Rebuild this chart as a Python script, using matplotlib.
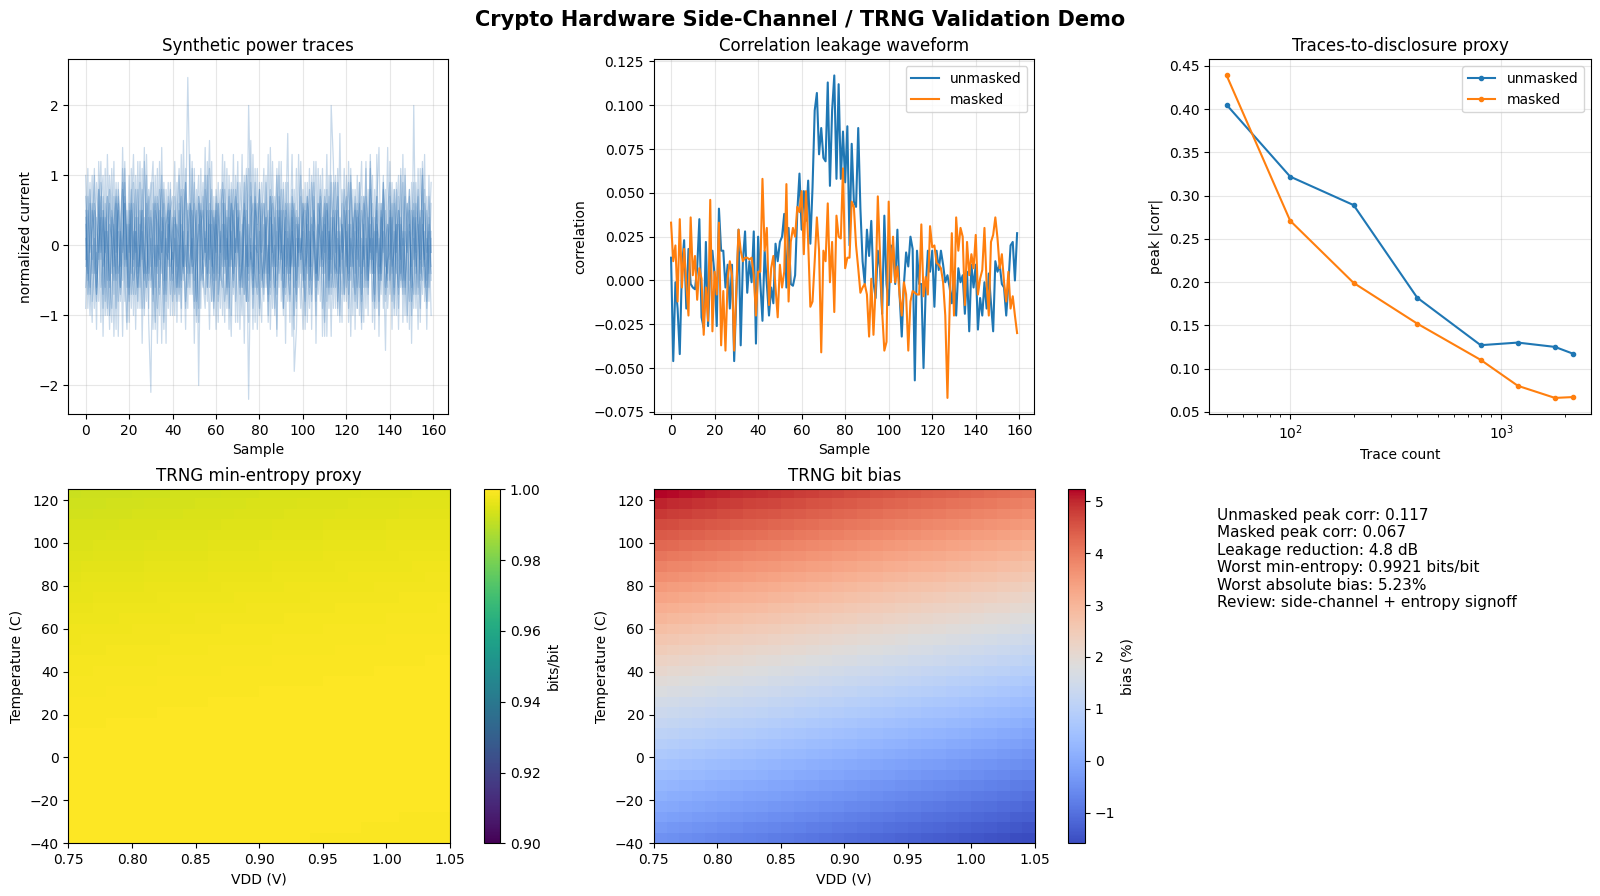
import numpy as np
import matplotlib
matplotlib.use("Agg")
import matplotlib.pyplot as plt

# ---------------- data ----------------
samples = np.arange(160)

# synthetic power traces (tenths of normalized current)
trace_a = [3,-5,8,-2,11,-7,0,4,-9,6,-1,-12,5,2,-4,9,-6,1,7,-3,
-8,4,13,-2,-6,0,5,-10,3,8,-5,-1,6,-14,2,10,-3,-7,4,1,
-2,7,-11,5,0,-4,9,3,-6,12,-8,-1,2,6,-5,-9,4,15,-3,0,
5,-7,-2,8,-4,1,-12,6,3,-1,9,-6,-3,4,11,-8,0,-5,7,2,
-10,3,6,-2,-7,14,-1,4,-5,0,8,-9,2,-4,6,-13,1,5,-3,10,
-6,-2,7,3,-8,0,12,-5,-1,4,-11,6,2,-7,9,-3,-4,16,-2,1,
5,-9,3,-6,8,0,-2,-12,7,4,-5,1,10,-8,2,-3,6,-1,-15,5,
9,-4,0,3,-7,11,-2,-6,4,8,-10,1,-3,7,-5,2,13,-9,0,-4]
trace_b = [-6,2,9,-4,1,-8,5,12,-3,-1,7,-10,4,0,-5,8,3,-13,6,-2,
10,-7,1,4,-9,3,-2,14,-6,0,5,-4,-11,7,2,-1,9,-8,3,-5,
1,12,-6,-2,8,-3,0,-9,6,4,-14,2,7,-5,-1,10,-4,3,-8,5,
-2,-11,4,9,0,-6,7,-3,13,-8,2,5,-1,-7,10,-4,1,-12,6,3,
8,-5,-2,4,-10,7,0,-3,11,-6,5,-9,2,16,-4,-1,6,-8,3,-2,
-12,5,1,-6,9,3,-4,-1,7,-13,2,8,-5,0,4,-9,11,-3,6,-7,
2,-4,10,-1,-8,5,3,-11,7,0,-6,12,-2,4,-9,1,-5,8,-3,14,
-7,0,6,-10,3,-2,9,-5,1,7,-14,4,-1,-6,11,2,-3,5,-8,1]
trace_c = [10,-3,-7,5,2,-12,8,-1,4,-6,13,0,-9,3,7,-4,-2,11,-8,5,
-1,6,-10,2,-3,9,-14,4,1,-5,7,12,-6,0,-2,8,-11,3,5,-7,
4,-1,-8,10,0,-5,3,24,7,-2,6,1,-9,11,-4,2,-6,5,-1,-10,
8,3,-5,0,12,-7,-2,6,-4,1,-11,9,4,-3,-8,2,15,-6,0,-1,
-4,9,-7,2,5,-12,0,7,-3,10,-5,-1,4,-8,1,13,-6,3,-2,-9,
6,0,-4,11,-7,2,-1,-5,8,4,-13,6,-2,9,-6,1,5,-10,3,-1,
-8,12,-3,4,0,-6,9,-2,-11,7,3,-4,1,-9,6,14,-5,2,-7,0,
4,-12,8,-1,5,-3,-7,10,2,-5,0,-9,6,3,-4,11,-6,-2,7,-1]
trace_d = [-2,7,-4,-11,6,3,-1,9,-7,2,-5,10,4,-13,1,6,-8,0,12,-3,
5,-9,2,-1,8,-6,11,-2,-4,7,0,-12,5,3,-7,14,-5,1,-3,9,
-10,4,2,-6,13,-1,-8,5,0,-3,9,-11,6,1,-4,-7,12,-2,8,-5,
3,0,-9,6,-2,11,-5,-13,4,7,-1,2,-6,10,-8,20,5,-3,9,-12,
1,6,-4,-1,13,-7,3,-10,5,0,-2,8,-6,1,-11,7,4,-5,2,12,
-3,-8,6,0,-5,9,-14,3,1,-2,7,-6,10,-4,0,5,-9,2,-1,11,
-6,3,-3,8,-12,4,0,-7,6,2,-10,13,-1,-4,5,-8,1,9,-2,-5,
7,-1,-9,4,10,-6,2,-3,-11,8,0,5,-7,3,-2,12,-8,1,-4,6]
trace_e = [4,-9,1,6,-3,-7,12,-2,5,-10,0,8,-4,3,-12,7,1,-5,9,-1,
-6,11,-3,2,-8,5,0,-4,10,-11,-21,6,-2,-9,8,-1,4,-14,7,2,
-5,0,9,-7,3,-1,-12,6,4,-3,11,-8,0,5,-2,14,-6,-1,3,-9,
7,-4,2,-10,6,1,-3,8,-7,0,12,-5,-2,9,-1,-11,4,6,-6,3,
-9,2,11,-4,0,-6,7,3,-13,5,-1,9,-7,2,-3,6,-10,4,1,-2,
8,-12,3,-5,10,0,-4,6,-8,2,-1,13,-6,4,-9,1,7,-3,-11,5,
0,-7,9,2,-4,6,-10,1,-2,11,-5,3,-8,0,7,-13,4,-1,5,-6,
12,-3,-1,8,-9,3,-5,1,6,-12,9,-2,4,-7,0,10,-4,-8,2,-3]
trace_f = [-9,5,-1,3,10,-6,-2,7,-13,4,0,-5,11,-3,8,-8,2,-1,6,-11,
3,-4,9,-7,1,12,-2,-5,6,-9,4,0,-3,11,-6,2,-12,8,-1,5,
7,-10,3,1,-6,8,-2,-4,13,-7,0,5,-11,2,9,-3,-1,6,-8,4,
-12,6,1,-3,8,-9,4,0,-5,10,-2,-7,3,-14,5,-22,-1,-4,11,-6,
2,-3,-8,9,1,-5,12,-2,-7,4,0,-10,6,3,-4,8,-12,1,-1,7,
-5,9,-2,-9,4,1,-6,11,-3,0,6,-8,2,-13,5,-1,9,-4,3,-7,
10,-2,-5,0,7,-9,4,12,-6,1,-3,8,-11,2,-1,6,-4,10,-8,3,
-2,6,-10,1,5,-4,13,-7,-1,3,-6,9,0,-12,4,-3,8,-5,1,9]
trace_g = [1,-4,6,-8,-2,9,3,-11,5,-1,7,-6,0,12,-9,2,-3,8,-5,-12,
6,1,-7,10,-4,-1,5,-9,13,-2,-6,3,7,-1,-10,4,2,-5,9,-3,
-1,-7,4,11,-5,2,-9,0,6,-4,-2,8,-20,3,5,-1,10,-6,-3,7,
-5,2,8,-1,-11,4,-6,9,0,-3,6,-12,1,5,-8,3,-2,13,-4,-7,
9,-1,3,-6,-2,7,-9,2,10,-4,-1,5,-14,6,0,-3,8,-7,4,-1,
2,-10,7,-3,1,12,-5,-2,6,-9,3,0,-7,10,-1,-4,2,-11,8,4,
-3,5,-13,1,6,-2,9,-8,3,-5,0,11,-4,-1,7,-10,5,2,-6,-2,
-1,9,-6,3,-12,4,0,7,-3,-8,5,1,-9,11,-2,-5,6,-1,3,-10]
trace_h = [7,-1,-10,2,5,-4,8,-6,-2,11,-9,3,1,-7,6,-13,4,9,-3,0,
-11,5,-2,8,-6,0,-9,12,3,-4,1,-7,10,-3,5,-14,6,-1,-2,8,
-4,3,-6,0,-9,15,-3,2,-7,5,-1,-10,7,4,-5,1,-8,11,-2,-4,
6,-8,-1,13,-3,5,-9,2,-6,8,1,-4,-10,6,2,-3,7,-9,0,11,
-5,-11,6,1,-4,8,-2,-6,3,12,-8,0,-3,9,-5,2,-1,-9,13,-2,
4,6,-11,2,-3,7,-8,0,10,-4,-1,5,-9,20,12,-6,1,-3,-7,8,
-1,-5,11,-3,2,-9,6,-4,0,-6,8,-2,4,-12,3,1,-7,9,-2,-4,
5,-8,2,-4,7,0,-6,11,-10,2,-3,6,-1,8,-11,5,-2,-6,10,-5]
trace_i = [-3,11,-6,0,-9,4,-2,6,10,-8,2,-4,-11,7,-1,5,-6,14,-2,3,
-7,2,6,-12,4,-3,8,-1,-6,5,9,-8,0,-4,12,-2,-7,3,6,-10,
2,5,-1,-8,7,-3,11,-6,-2,1,-9,4,10,-3,-6,8,0,-12,5,2,
-1,9,-4,-6,3,-2,8,-10,5,-1,4,-3,13,-7,0,-5,9,2,-11,6,
3,-6,-1,10,-8,4,-3,0,-12,7,2,-4,9,-1,-7,5,-3,11,-6,1,
-2,-5,9,-7,3,-1,-10,6,4,-3,8,-13,2,-2,6,10,-8,0,-4,5,
7,-11,1,-2,-7,10,-3,5,1,-9,4,-1,6,-7,13,-4,-2,3,8,-9,
-3,4,-7,9,-2,-5,1,-10,6,3,-8,20,-4,0,5,-7,2,-12,4,-1]
trace_j = [5,-7,2,10,-4,-1,-8,3,7,-2,-10,6,1,-5,9,-3,-7,2,11,-6,
0,8,-5,-3,12,-9,2,-1,-8,4,-3,9,-12,6,-1,-4,8,2,-9,5,
-8,1,-3,6,-11,4,9,-2,-4,11,-5,-2,3,-9,7,-1,5,-4,12,-8,
-3,6,-1,3,-8,-4,10,-2,8,-11,5,1,-6,4,-3,11,-2,-7,5,-1,
8,-2,-6,4,-11,0,6,-9,2,-2,12,-6,5,-3,-8,4,-18,-12,1,-4,
6,-3,-1,8,-12,5,2,-7,-1,11,-4,0,7,-6,-3,9,-10,4,2,-8,
4,9,-2,-10,5,-1,-6,7,-3,12,-7,1,-4,8,-2,-5,6,-9,1,3,
-5,2,8,-3,-6,10,-11,2,-1,5,-4,-7,9,1,-9,3,-2,7,-6,2]
power_traces = [trace_a, trace_b, trace_c, trace_d, trace_e,
                trace_f, trace_g, trace_h, trace_i, trace_j]

unmasked_corr = [0.013,-0.046,-0.001,-0.016,-0.042,0.007,0.023,-0.016,0.018,-0.002,
-0.004,-0.005,0.007,0.035,-0.021,-0.027,0.022,-0.026,0.007,0.017,
0.003,-0.026,0.041,0.017,0.017,-0.004,0.009,-0.016,0.009,-0.046,
-0.008,0.029,-0.037,0.011,0.028,-0.007,0.011,-0.001,0.028,-0.036,
0.025,-0.001,-0.023,0.017,-0.002,-0.020,-0.004,-0.013,0.021,0.011,
0.022,0.025,0.038,-0.004,0.030,-0.002,-0.003,0.003,0.039,0.061,
0.029,0.051,0.034,0.057,0.021,0.053,0.097,0.107,0.072,0.087,
0.070,0.068,0.113,0.054,0.097,0.117,0.058,0.112,0.058,0.085,
0.056,0.088,0.020,0.078,0.045,0.042,0.087,0.041,0.011,-0.002,
0.029,0.014,0.034,-0.001,-0.010,0.017,0.007,-0.019,0.037,-0.002,
-0.014,0.020,0.019,-0.002,0.029,-0.008,-0.032,-0.002,0.016,0.008,
0.025,0.018,-0.057,0.017,-0.002,-0.002,-0.050,-0.005,0.017,0.005,
0.017,-0.015,0.017,0.006,0.017,0.009,-0.001,0.003,-0.004,-0.013,
0.005,-0.020,0.007,-0.001,0.003,-0.019,0.005,-0.029,0.009,-0.004,
0.009,-0.028,-0.010,-0.020,-0.001,-0.016,0.004,-0.013,-0.029,0.011,
0.005,0.009,-0.002,-0.004,-0.020,-0.002,0.020,0.022,0.000,0.027]
masked_corr = [0.033,0.011,0.020,-0.012,0.035,-0.004,0.018,-0.002,-0.020,0.036,
0.003,0.014,-0.011,0.007,0.001,-0.031,-0.004,-0.023,0.046,-0.029,
0.005,-0.008,0.033,-0.037,-0.006,-0.040,0.001,0.011,0.003,-0.040,
-0.004,0.029,0.017,0.011,0.013,0.013,0.012,0.013,0.003,-0.020,
0.005,0.005,0.058,0.017,0.030,-0.014,0.007,0.014,-0.004,-0.021,
0.009,-0.004,0.005,0.055,-0.012,0.022,0.030,0.025,0.042,0.039,
0.051,0.015,0.051,0.022,-0.015,-0.012,0.011,0.036,0.017,-0.041,
0.017,0.011,0.044,-0.001,0.022,-0.018,0.037,0.025,0.024,0.064,
0.007,0.013,0.013,0.045,0.042,0.020,0.007,-0.007,-0.004,-0.002,
-0.008,-0.032,0.001,-0.031,-0.004,0.048,0.015,-0.018,-0.040,-0.035,
0.045,-0.001,0.025,-0.001,0.008,-0.008,-0.020,-0.001,-0.008,-0.040,
-0.012,-0.006,-0.007,-0.008,-0.008,0.032,-0.009,0.002,-0.008,0.031,
0.019,0.020,0.010,0.009,0.007,-0.001,-0.020,-0.067,-0.016,0.027,
-0.020,0.036,0.017,0.030,0.025,-0.014,0.022,0.003,0.015,0.007,
0.026,-0.008,0.001,0.006,0.030,-0.002,-0.020,0.022,0.026,0.036,
0.024,0.007,0.015,-0.001,-0.012,0.005,-0.016,-0.009,-0.020,-0.030]

trace_counts = [50, 100, 200, 400, 800, 1200, 1800, 2200]
peak_unmasked = [0.405, 0.322, 0.289, 0.182, 0.127, 0.130, 0.125, 0.117]
peak_masked = [0.439, 0.271, 0.199, 0.152, 0.110, 0.080, 0.066, 0.067]

vdd_range = [0.75, 1.05]
temp_range = [-40, 125]
# bias (%) at VDD = 0.75 V for each temperature row (bottom -> top)
bias_by_temp = [-0.45,-0.30,-0.15,0.00,0.15,0.30,0.46,0.61,0.77,0.93,
1.09,1.25,1.42,1.58,1.75,1.92,2.09,2.26,2.44,2.61,
2.79,2.97,3.15,3.33,3.51,3.70,3.88,4.07,4.26,4.45,
4.64,4.84,5.03,5.23]
# change of bias (%) across the VDD columns (left -> right)
bias_vdd_shift = [0.00,-0.04,-0.08,-0.12,-0.16,-0.20,-0.24,-0.28,-0.31,-0.35,
-0.39,-0.43,-0.47,-0.51,-0.55,-0.59,-0.63,-0.67,-0.71,-0.75,
-0.79,-0.83,-0.86,-0.90,-0.94,-0.98,-1.02,-1.06,-1.10,-1.14]

summary_lines = ["Unmasked peak corr: 0.117",
                 "Masked peak corr: 0.067",
                 "Leakage reduction: 4.8 dB",
                 "Worst min-entropy: 0.9921 bits/bit",
                 "Worst absolute bias: 5.23%",
                 "Review: side-channel + entropy signoff"]

# ---------------- figure ----------------
fig = plt.figure(figsize=(16, 8.96), dpi=100)
fig.suptitle("Crypto Hardware Side-Channel / TRNG Validation Demo",
             fontsize=15, fontweight="bold", y=0.9885)

ax1 = fig.add_axes([0.04275, 0.5379, 0.2375, 0.3959])
ax2 = fig.add_axes([0.4086, 0.5379, 0.2379, 0.3959])
ax3 = fig.add_axes([0.7558, 0.5379, 0.2384, 0.3959])
ax4 = fig.add_axes([0.04275, 0.0588, 0.2385, 0.3951])
cax4 = fig.add_axes([0.3025, 0.0588, 0.0100, 0.3951])
ax5 = fig.add_axes([0.4086, 0.0588, 0.2381, 0.3951])
cax5 = fig.add_axes([0.6675, 0.0588, 0.0106, 0.3951])

# power traces
for tr in power_traces:
    ax1.plot(samples, np.array(tr) / 10.0, color="#2c6fb0", lw=0.9, alpha=0.26)
ax1.set_ylim(-2.41, 2.66)
ax1.set_title("Synthetic power traces", fontsize=12)
ax1.set_xlabel("Sample")
ax1.set_ylabel("normalized current")
ax1.grid(True, alpha=0.3)

# correlation waveform
ax2.plot(samples, unmasked_corr, color="C0", lw=1.5, label="unmasked")
ax2.plot(samples, masked_corr, color="C1", lw=1.5, label="masked")
ax2.set_title("Correlation leakage waveform", fontsize=12)
ax2.set_xlabel("Sample")
ax2.set_ylabel("correlation")
ax2.grid(True, alpha=0.3)
ax2.legend(loc="upper right")

# traces to disclosure
ax3.plot(trace_counts, peak_unmasked, marker="o", ms=3, color="C0", label="unmasked")
ax3.plot(trace_counts, peak_masked, marker="o", ms=3, color="C1", label="masked")
ax3.set_xscale("log")
ax3.set_title("Traces-to-disclosure proxy", fontsize=12)
ax3.set_xlabel("Trace count")
ax3.set_ylabel("peak |corr|")
ax3.grid(True, alpha=0.3)
ax3.legend(loc="upper right")

# TRNG grids
bias = np.array(bias_by_temp)[:, None] + np.array(bias_vdd_shift)[None, :]
p1 = 0.5 + bias / 100.0
entropy = -(p1 * np.log2(p1) + (1 - p1) * np.log2(1 - p1))
extent = [vdd_range[0], vdd_range[1], temp_range[0], temp_range[1]]

im4 = ax4.imshow(entropy, origin="lower", extent=extent, aspect="auto",
                 cmap="viridis", vmin=0.9, vmax=1.0)
ax4.set_title("TRNG min-entropy proxy", fontsize=12)
ax4.set_xlabel("VDD (V)")
ax4.set_ylabel("Temperature (C)")
fig.colorbar(im4, cax=cax4, label="bits/bit")

im5 = ax5.imshow(bias, origin="lower", extent=extent, aspect="auto", cmap="coolwarm")
ax5.set_title("TRNG bit bias", fontsize=12)
ax5.set_xlabel("VDD (V)")
ax5.set_ylabel("Temperature (C)")
fig.colorbar(im5, cax=cax5, label="bias (%)")

fig.text(0.7608, 0.4331, "\n".join(summary_lines), fontsize=11, va="top", ha="left")

fig.savefig("out.png", dpi=100)
